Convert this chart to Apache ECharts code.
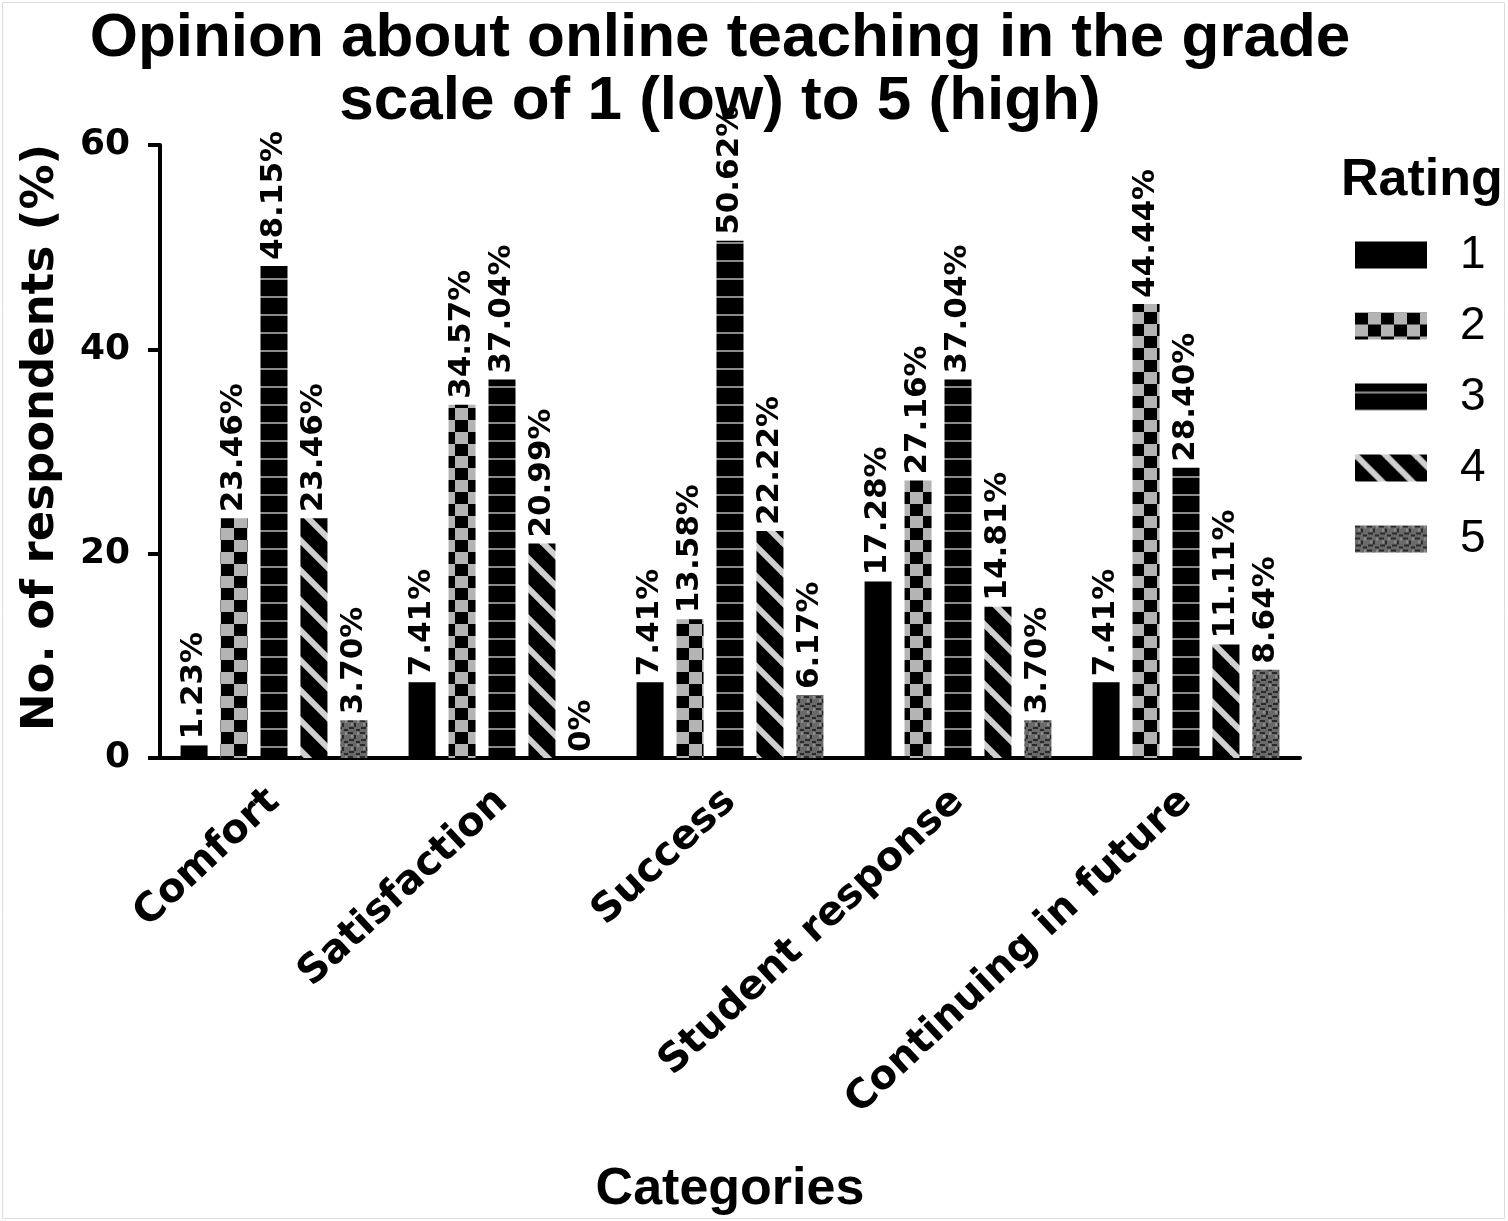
<!DOCTYPE html>
<html>
<head>
<meta charset="utf-8">
<script src="https://cdn.jsdelivr.net/npm/echarts@6/dist/echarts.min.js"></script>
<style>
  html, body { margin: 0; padding: 0; background: #fff; }
  #chart { width: 1508px; height: 1221px; }
</style>
</head>
<body>
<div id="chart"></div>
<script>
var categories = ['Comfort', 'Satisfaction', 'Success', 'Student response', 'Continuing in future'];
var ratingNames = ['1', '2', '3', '4', '5'];
var rating1 = [1.23, 7.41, 7.41, 17.28, 7.41];
var rating2 = [23.46, 34.57, 13.58, 27.16, 44.44];
var rating3 = [48.15, 37.04, 50.62, 37.04, 28.40];
var rating4 = [23.46, 20.99, 22.22, 14.81, 11.11];
var rating5 = [3.70, 0, 6.17, 3.70, 8.64];
var yTicks = [0, 20, 40, 60];

// fill patterns for the bars
function makePattern(kind) {
    var c = document.createElement('canvas');
    var ctx = c.getContext('2d');
    if (kind == 1) {
        c.width = 8; c.height = 8;
        ctx.fillStyle = '#000';
        ctx.fillRect(0, 0, 8, 8);
    } else if (kind == 2) {
        c.width = 26; c.height = 24;
        ctx.fillStyle = '#000';
        ctx.fillRect(0, 0, 26, 24);
        ctx.fillStyle = '#b4b4b4';
        ctx.fillRect(13, 0, 13, 12);
        ctx.fillRect(0, 12, 13, 12);
    } else if (kind == 3) {
        c.width = 8; c.height = 18;
        ctx.fillStyle = '#000';
        ctx.fillRect(0, 0, 8, 18);
        ctx.fillStyle = '#8a8a8a';
        ctx.fillRect(0, 8, 8, 2);
    } else if (kind == 4) {
        c.width = 30; c.height = 30;
        ctx.fillStyle = '#000';
        ctx.fillRect(0, 0, 30, 30);
        ctx.strokeStyle = '#d0d0d0';
        ctx.lineWidth = 6;
        for (var k = -1; k <= 1; k++) {
            ctx.beginPath();
            ctx.moveTo(k * 30 - 5, -5);
            ctx.lineTo(k * 30 + 35, 35);
            ctx.stroke();
        }
    } else {
        c.width = 12; c.height = 12;
        ctx.fillStyle = '#6a6a6a';
        ctx.fillRect(0, 0, 12, 12);
        ctx.fillStyle = '#2a2a2a';
        ctx.fillRect(0, 0, 5, 2);
        ctx.fillRect(6, 3, 2, 4);
        ctx.fillRect(1, 7, 5, 2);
        ctx.fillRect(8, 9, 4, 2);
        ctx.fillStyle = '#8c8c8c';
        ctx.fillRect(3, 3, 2, 3);
        ctx.fillRect(9, 0, 2, 3);
    }
    return { image: c, repeat: 'repeat' };
}

function labelText(p) {
    return p.value === 0 ? '0%' : p.value.toFixed(2) + '%';
}

var allData = [rating1, rating2, rating3, rating4, rating5];
var series = [];
for (var i = 0; i < ratingNames.length; i++) {
    series.push({
        name: ratingNames[i],
        type: 'bar',
        data: allData[i],
        barWidth: 27,
        barGap: '48%',
        itemStyle: { color: makePattern(i + 1) },
        label: {
            show: true,
            position: 'top',
            rotate: 90,
            align: 'left',
            verticalAlign: 'middle',
            distance: 6,
            formatter: labelText,
            fontFamily: 'DejaVu Sans',
            fontWeight: 'bold',
            fontSize: 31,
            color: '#000'
        }
    });
}

var myChart = echarts.init(document.getElementById('chart'));
var option = {
    backgroundColor: '#fff',
    animation: false,
    graphic: [{
        type: 'rect',
        shape: { x: 2.5, y: 2.5, width: 1502, height: 1216 },
        style: { fill: 'none', stroke: '#dcdcdc', lineWidth: 1 },
        silent: true
    }],
    title: [{
        text: 'Opinion about online teaching in the grade\nscale of 1 (low) to 5 (high)',
        left: 715,
        top: 2,
        textAlign: 'center',
        textStyle: {
            fontFamily: 'Liberation Sans',
            fontWeight: 'bold',
            fontSize: 62,
            lineHeight: 63,
            color: '#000'
        }
    }, {
        text: 'Rating',
        left: 1336,
        top: 150,
        textStyle: {
            fontFamily: 'Liberation Sans',
            fontWeight: 'bold',
            fontSize: 52,
            color: '#000'
        }
    }],
    legend: {
        data: ratingNames,
        orient: 'vertical',
        left: 1350,
        top: 227,
        itemWidth: 72,
        itemHeight: 27,
        itemGap: 25,
        icon: 'rect',
        textStyle: {
            fontFamily: 'Liberation Sans',
            fontSize: 46,
            color: '#000',
            padding: [0, 0, 0, 28]
        }
    },
    grid: {
        left: 160,
        right: 208,
        top: 145,
        bottom: 463,
        containLabel: false,
        outerBoundsMode: 'none'
    },
    xAxis: {
        type: 'category',
        data: categories,
        name: 'Categories',
        nameLocation: 'middle',
        nameGap: 406,
        nameTextStyle: {
            fontFamily: 'Liberation Sans',
            fontWeight: 'bold',
            fontSize: 52,
            color: '#000'
        },
        axisLine: { lineStyle: { color: '#000', width: 4 } },
        axisTick: { alignWithLabel: true, length: 14, lineStyle: { color: '#000', width: 4 } },
        axisLabel: {
            rotate: 43,
            margin: 38,
            fontFamily: 'DejaVu Sans',
            fontWeight: 'bold',
            fontSize: 40,
            color: '#000'
        }
    },
    yAxis: {
        type: 'value',
        min: yTicks[0],
        max: yTicks[yTicks.length - 1],
        interval: 20,
        name: 'No. of respondents (%)',
        nameLocation: 'middle',
        nameGap: 96,
        nameRotate: 90,
        nameTextStyle: {
            fontFamily: 'DejaVu Sans',
            fontWeight: 'bold',
            fontSize: 45,
            color: '#000',
            padding: [0, 0, 0, 28]
        },
        axisLine: { show: true, lineStyle: { color: '#000', width: 4 } },
        axisTick: { show: true, length: 12, lineStyle: { color: '#000', width: 4 } },
        splitLine: { show: false },
        axisLabel: {
            margin: 30,
            fontFamily: 'DejaVu Sans',
            fontWeight: 'bold',
            fontSize: 36,
            color: '#000'
        }
    },
    series: series
};
myChart.setOption(option);
</script>
</body>
</html>
